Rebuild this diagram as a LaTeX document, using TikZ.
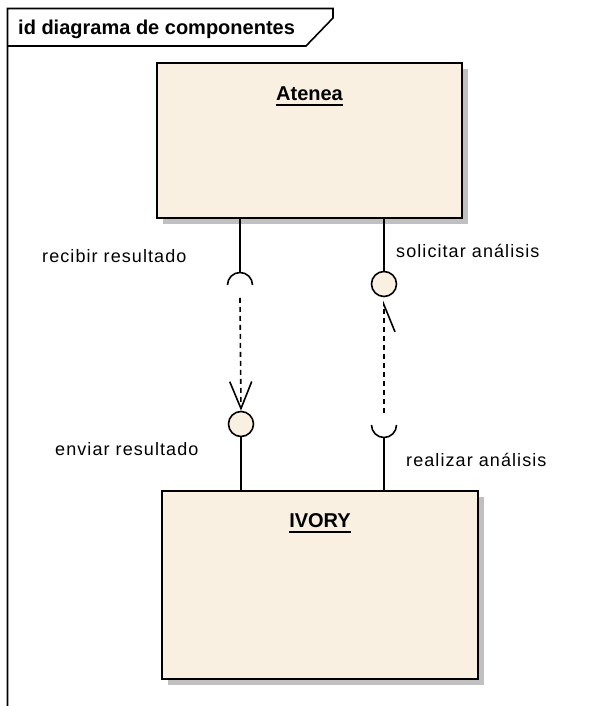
\documentclass[tikz,border=0pt]{standalone}
\usepackage{fontspec}
\setmainfont{Liberation Sans}
\newfontfamily\portfont{Liberation Sans}[LetterSpace=6]
\usetikzlibrary{arrows.meta,shadows}
\definecolor{Cream}{HTML}{FAF0E1}
\definecolor{Shade}{HTML}{C0C0C0}

\tikzset{
  component/.style={draw,line width=1.8pt,fill=Cream,rectangle,inner sep=0pt,
    drop shadow={shadow xshift=6pt,shadow yshift=-6pt,fill=Shade,opacity=1}},
  compname/.style={anchor=base,inner sep=0pt,font=\bfseries\fontsize{20}{24}\selectfont},
  lollipop/.style={draw,circle,line width=1.6pt,fill=Cream,minimum size=25pt,inner sep=0pt},
  port/.style={anchor=base west,inner sep=0pt,font=\portfont\fontsize{18}{22}\selectfont},
  wire/.style={line width=1.6pt},
  depend/.style={line width=1.6pt,dash pattern=on 5pt off 4pt}
}

\begin{document}
\begin{tikzpicture}[x=1pt,y=1pt]
\useasboundingbox (0,0) rectangle (601,706);

% frame with its tab
\draw [line width=1.6pt] (7.5,0) -- (7.5,697.5) -- (333,697.5) -- (333,688) -- (306,660) -- (7.5,660);
\node at (18,671) [anchor=base west,inner sep=0pt,font=\bfseries\fontsize{20}{24}\selectfont] (title) {id diagrama de componentes};

% components
\node [component,minimum width=305pt,minimum height=155pt] (atenea) at (309.5,565.5) {};
\node [component,minimum width=316pt,minimum height=188pt] (ivory) at (320,121) {};
\node [compname] (atenea-name) at (309.5,605) {Atenea};
\node [compname] (ivory-name) at (320,178) {IVORY};
\draw [line width=1.6pt] ([yshift=-4]atenea-name.base west) -- ([yshift=-4]atenea-name.base east);
\draw [line width=1.6pt] ([yshift=-4]ivory-name.base west) -- ([yshift=-4]ivory-name.base east);

% provided and required interfaces
\node [lollipop] (solicitar) at (384,422) {};
\node [lollipop] (enviar) at (241,282) {};
\coordinate (recibir) at (240,421);
\coordinate (realizar) at (384,281);

\draw [wire] (atenea.south -| solicitar) -- (solicitar.north);
\draw [wire] (atenea.south -| recibir) -- ([yshift=12.5]recibir);
\draw [wire] ([xshift=-12.5]recibir) arc (180:0:12.5);

\draw [wire] (enviar.south) -- (enviar |- ivory.north);
\draw [wire] ([xshift=-12.5]realizar) arc (180:360:12.5);
\draw [wire] ([yshift=-12.5]realizar) -- (realizar |- ivory.north);

% dependencies
\draw [depend,-{Straight Barb[length=27pt,width=22pt]}] ([yshift=-13]recibir) -- (enviar.north);
\draw [depend,-{Straight Barb[harpoon,swap,length=27pt,width=22pt]}] ([yshift=12]realizar) -- ([yshift=-3.5]solicitar.south);

\node [port] (recibir-label) at (42,443) {recibir resultado};
\node [port] (solicitar-label) at (396,448) {solicitar análisis};
\node [port] (enviar-label) at (55,250) {enviar resultado};
\node [port] (realizar-label) at (406,239) {realizar análisis};
\end{tikzpicture}
\end{document}
